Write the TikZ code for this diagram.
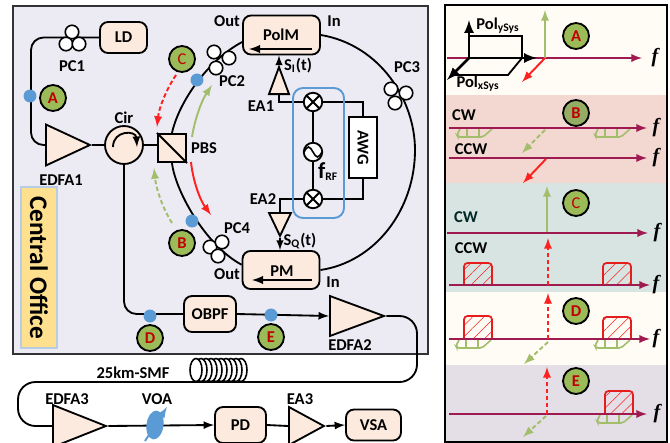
\documentclass[tikz,border=0pt]{standalone}
\usepackage{fontspec}
\setmainfont{Carlito}
\newfontfamily\freqfont{Liberation Serif}
\usetikzlibrary{shapes.geometric,patterns.meta,backgrounds}

\definecolor{panelgray}{HTML}{ECEAF2}
\definecolor{boxpeach}{HTML}{FBEADD}
\definecolor{dotblue}{HTML}{5B9BD5}
\definecolor{tagred}{HTML}{C00000}
\definecolor{taggreen}{HTML}{9BBB59}
\definecolor{axiscrim}{HTML}{9E1A50}
\definecolor{sigred}{HTML}{FF2020}
\definecolor{siggreen}{HTML}{A3BE6B}
\definecolor{officeyellow}{HTML}{FFE08F}
\definecolor{officeblue}{HTML}{B8CCE4}
\definecolor{bandA}{HTML}{FFFCF5}
\definecolor{bandB}{HTML}{F2D8D0}
\definecolor{bandC}{HTML}{D7E4E2}
\definecolor{bandE}{HTML}{E4DEE6}

\tikzset{
  lab/.style={font=\fontsize{9.4}{10}\selectfont\bfseries, inner sep=0pt},
  boxn/.style={lab, draw, line width=1.05pt, fill=boxpeach, rounded corners=0.16cm},
  ampl/.style={draw, line width=1.05pt, fill=boxpeach, isosceles triangle, isosceles triangle stretches, inner sep=0pt, anchor=lower side},
  pcring/.style={circle, draw, line width=0.9pt, fill=white, minimum size=0.27cm, inner sep=0pt},
  dotn/.style={circle, fill=dotblue, minimum size=0.26cm, inner sep=0pt},
  tag/.style={circle, draw, line width=1.05pt, fill=taggreen, text=tagred, minimum size=0.52cm, inner sep=0pt, font=\fontsize{9.4}{10}\selectfont\bfseries},
  mixer/.style={circle, draw, line width=1.05pt, fill=white, minimum size=0.37cm, inner sep=0pt,
    path picture={\draw[line width=1.05pt] (path picture bounding box.north west) -- (path picture bounding box.south east)
      (path picture bounding box.north east) -- (path picture bounding box.south west);}},
  wire/.style={line width=1.05pt},
  fibre/.style={wire, rounded corners=0.25cm},
  faxisl/.style={line width=1.1pt, axiscrim, -latex},
  redsolid/.style={line width=1.1pt, sigred, -latex},
  reddash/.style={line width=1.1pt, sigred, dash pattern=on 2.5pt off 1.5pt, -latex},
  greensolid/.style={line width=1.1pt, siggreen, -latex},
  greendash/.style={line width=1.1pt, siggreen, dash pattern=on 2.5pt off 1.5pt, -latex}
}

\newcommand{\faxis}[5]{
  \draw[faxisl] (#1,#3) -- (#2,#3);
  \node[inner sep=0pt, font=\fontsize{11.5}{12}\selectfont\freqfont\bfseries\itshape] (#4) at (#5,#3) {f};
}
\newcommand{\hatchbox}[3]{
  \draw[line width=1pt, sigred!90!black, rounded corners=0.07cm, pattern={Lines[angle=45,distance=4.5pt,line width=0.3pt]}, pattern color=sigred]
    (#1,#3) -- (#1,#2) -- (#1+28,#2) -- (#1+28,#3);
}
\newcommand{\sideband}[2]{
  \draw[line width=0.9pt, siggreen, rounded corners=0.04cm] (#1+3,#2) -- (#1,#2+6) -- (#1+1,#2+8) -- (#1+26,#2+8) -- (#1+35,#2);
  \draw[line width=0.6pt, siggreen] (#1+10,#2) -- (#1+10,#2+8) (#1+22,#2) -- (#1+22,#2+8);
}

\begin{document}
\begin{tikzpicture}[x=0.02cm, y=-0.02cm]
    \clip (0,0) rectangle (670,443);
    \useasboundingbox (0,0) rectangle (670,443);
    \begin{scope}[on background layer]
      \fill[white] (0,0) rectangle (670,443);
      \draw[line width=0.7pt, fill=panelgray, draw=black!80] (13,6) rectangle (428,354);
    \end{scope}

    % central office part
    \node[lab, rotate=-90, draw=officeblue, line width=1.2pt, fill=officeyellow, minimum width=3.22cm, minimum height=0.72cm, font=\fontsize{14.4}{15}\selectfont\bfseries] (office) at (39,267.5) {Central Office};
    \node[boxn, minimum width=0.94cm, minimum height=0.62cm] (LD) at (123.5,37.5) {LD};
    \node[ampl, minimum width=0.82cm, minimum height=0.88cm] (EDFAa) at (45,145) {};
    \node[circle, draw, wire, fill=boxpeach, minimum size=0.76cm, inner sep=0pt] (Cir) at (124,145) {};
    \node[draw, line width=1.2pt, fill=boxpeach, minimum size=0.56cm, inner sep=0pt] (PBS) at (172,148) {};
    \node[boxn, minimum width=1.54cm, minimum height=0.78cm] (PolM) at (281.5,35) {};
    \node[boxn, minimum width=1.54cm, minimum height=0.76cm] (PM) at (281,270) {};
    \node[boxn, minimum width=1.04cm, minimum height=0.72cm] (OBPF) at (210,314) {OBPF};
    \node[ampl, minimum width=0.8cm, minimum height=1.08cm] (EDFAb) at (329,316) {};
    \node[ampl, minimum width=0.84cm, minimum height=1.06cm] (EDFAc) at (52,426) {};
    \node[boxn, minimum width=1.02cm, minimum height=0.72cm] (PD) at (240.5,425) {PD};
    \node[ampl, minimum width=0.76cm, minimum height=0.7cm] (EAc) at (288,426) {};
    \node[boxn, minimum width=1.1cm, minimum height=0.62cm] (VSA) at (373.5,425) {VSA};
    \node[ellipse, fill=dotblue, minimum width=0.34cm, minimum height=0.58cm, inner sep=0pt, rotate=-8] (VOA) at (155,425) {};

    % driver part
    \draw[line width=1.1pt, dotblue, rounded corners=0.2cm] (293,88) rectangle (344,218);
    \node[mixer] (mixI) at (313,102) {};
    \node[mixer] (mixQ) at (313,199) {};
    \node[circle, draw, wire, fill=white, minimum size=0.37cm, inner sep=0pt] (osc) at (313,152) {};
    \draw[line width=0.9pt] (304,152) sin (308.5,147) cos (313,152) sin (317.5,157) cos (322,152);
    \node[lab, draw, wire, fill=white, rotate=-90, minimum width=1.22cm, minimum height=0.56cm] (AWG) at (363,147.5) {AWG};
    \node[ampl, shape border rotate=90, minimum width=0.4cm, minimum height=0.54cm] (EAi) at (279,95) {};
    \node[ampl, shape border rotate=270, minimum width=0.44cm, minimum height=0.46cm] (EAq) at (280,212) {};

    % polarization controllers
    \node[pcring] (PCaa) at (72,32) {};
    \node[pcring] (PCab) at (66,44) {};
    \node[pcring] (PCac) at (79,44) {};
    \node[pcring] (PCba) at (214,52) {};
    \node[pcring] (PCbb) at (216,68) {};
    \node[pcring] (PCbc) at (229,58) {};
    \node[pcring] (PCca) at (391,89) {};
    \node[pcring] (PCcb) at (406,93) {};
    \node[pcring] (PCcc) at (395,103) {};
    \node[pcring] (PCda) at (210,247) {};
    \node[pcring] (PCdb) at (222,242) {};
    \node[pcring] (PCdc) at (218,256) {};

    % fibres
    \coordinate (feedL) at (31,145);
    \coordinate (fibreR) at (417,382);
    \coordinate (fibreL) at (18,426);
    \begin{scope}[on background layer]
      \draw[fibre] (LD.west) -| (feedL) -- (EDFAa.lower side);
      \draw[wire] (EDFAa.apex) -- (Cir.west);
      \draw[wire] (Cir.east) -- (PBS.west |- Cir.east);
      \draw[fibre] (Cir.south) |- (OBPF.west);
      \draw[wire, -latex] (OBPF.east) -- (EDFAb.lower side);
      \draw[fibre, rounded corners=0.35cm] (EDFAb.apex) -| (fibreR) -| (fibreL) -- (EDFAc.lower side);
      \draw[wire, -latex] (EDFAc.apex) -- (PD.west);
      \draw[wire] (PD.east) -- (EAc.lower side);
      \draw[wire, -latex] (EAc.apex) -- (VSA.west);
      \draw[wire] (PBS.north) .. controls (178,105) and (205,62) .. ([yshift=-4pt]PolM.west);
      \draw[wire] (PBS.south) .. controls (175,190) and (205,245) .. ([yshift=3pt]PM.west);
      \draw[wire] (PolM.east) .. controls (380,45) and (415,100) .. (415,150) .. controls (415,210) and (375,262) .. (PM.east);
      \draw[wire] (mixI.west) -| (EAi.lower side);
      \draw[wire] (mixQ.west) -| (EAq.lower side);
      \draw[wire] (mixI) -- (osc) -- (mixQ);
      \draw[wire] (mixI.east) -| (AWG.west);
      \draw[wire] (mixQ.east) -| (AWG.east);
      \draw[line width=0.9pt, -latex] (EAi.apex) -- (PolM.south -| EAi.apex);
      \draw[line width=0.9pt, -latex] (EAq.apex) -- (PM.north -| EAq.apex);
    \end{scope}
    \foreach \x in {241,236,...,195}
      \draw[line width=0.9pt, fill=white] (\x,370) ellipse [x radius=6, y radius=11.5];
    \draw[wire] (PBS.north west) -- (PBS.south east);
    \draw[wire, -latex] (113,147) .. controls (113,130) and (136,130) .. (137,147);
    \draw[line width=1.2pt, -latex] (312,49) -- (249,49);
    \draw[line width=1.2pt, -latex] (312,280) -- (252,280);
    \draw[line width=1.1pt, dotblue, -latex] (145,441) -- (167,407);

    % signal arrows
    \draw[reddash] (176,75) .. controls (166,90) and (159,108) .. (157,127);
    \draw[greendash] (172,223) .. controls (162,207) and (156,188) .. (154,168);
    \draw[greensolid] (192,137) .. controls (195,118) and (202,100) .. (212,85);
    \draw[redsolid] (191,162) .. controls (193,181) and (200,200) .. (211,215);

    % monitor points
    \node[dotn] (dotA) at (30,96) {};
    \node[dotn] (dotC) at (197,80) {};
    \node[dotn] (dotB) at (192,221) {};
    \node[dotn] (dotD) at (150,316) {};
    \node[dotn] (dotE) at (271,315) {};
    \node[tag] (tagA) at (53,98) {A};
    \node[tag, font=\fontsize{9.4}{10}\selectfont] (tagC) at (182,59) {C};
    \node[tag] (tagB) at (182,243) {B};
    \node[tag] (tagD) at (150,338) {D};
    \node[tag] (tagE) at (271,337) {E};

    % labels
    \node[lab] (lPCa) at (72,66) {PC1};
    \node[lab] (lCir) at (124,118) {Cir};
    \node[lab] (lPBS) at (204,148) {PBS};
    \node[lab] (lEDFAa) at (61,180) {EDFA1};
    \node[lab] (lOuta) at (227,21) {Out};
    \node[lab] (lIna) at (334,21) {In};
    \node[lab] (lPolM) at (281,35) {PolM};
    \node[lab] (lPCb) at (232,81) {PC2};
    \node[lab] (lPCc) at (407,67) {PC3};
    \node[lab] (lPCd) at (237,228) {PC4};
    \node[lab] (lOutb) at (227,274) {Out};
    \node[lab] (lInb) at (333,282) {In};
    \node[lab] (lPM) at (282,271) {PM};
    \node[lab] (lEAa) at (261,106) {EA1};
    \node[lab] (lEAb) at (263,199) {EA2};
    \node[lab] (lSi) at (298,66) {S\textsubscript{I}(t)};
    \node[lab] (lSq) at (300,241) {S\textsubscript{Q}(t)};
    \node[lab] (lfRF) at (328,172) {{\fontsize{13}{14}\selectfont f}\textsubscript{RF}};
    \node[lab] (lEDFAb) at (350,345) {EDFA2};
    \node[lab] (lEDFAc) at (67,399) {EDFA3};
    \node[lab] (lSMF) at (133,373) {25km-SMF};
    \node[lab] (lVOA) at (157,399) {VOA};
    \node[lab] (lEAc) at (300,399) {EA3};

    % spectrum panel
    \fill[bandA] (445,6) rectangle (667,95);
    \fill[bandB] (445,95) rectangle (667,183);
    \fill[bandC] (445,183) rectangle (667,292);
    \fill[bandA] (445,292) rectangle (667,365);
    \fill[bandE] (445,365) rectangle (667,441);
    \draw[line width=1.3pt] (445,5) rectangle (667,442);

    % A
    \draw[wire] (469,36) -- (522,36) -- (522,58) -- (508,75) -- (455,75);
    \faxis{447}{642}{58}{fA}{655}
    \draw[line width=1.5pt, -latex] (469,58) -- (469,20);
    \draw[line width=1.5pt, -latex] (469,58) -- (537,58);
    \draw[line width=1.5pt, -latex] (469,58) -- (447,80);
    \draw[greensolid] (545,58) -- (545,10);
    \draw[redsolid] (545,58) -- (522,82);
    \node[lab] (lPoly) at (498,26) {Pol\textsubscript{ySys}};
    \node[lab] (lPolx) at (478,84) {Pol\textsubscript{xSys}};
    \node[tag] (tagPA) at (576,36) {A};

    % B
    \sideband{457}{129}
    \sideband{595}{129}
    \faxis{449}{647}{128}{fBa}{656}
    \faxis{449}{647}{158}{fBb}{656}
    \draw[greendash] (545,130) -- (522,153);
    \draw[redsolid] (546,159) -- (523,183);
    \node[lab] (lCWb) at (464,115) {CW};
    \node[lab] (lCCWb) at (471,149) {CCW};
    \node[tag, fill=taggreen!75!gray] (tagPB) at (576,113) {B};

    % C
    \hatchbox{464}{263}{285}
    \hatchbox{603}{263}{285}
    \faxis{447}{648}{233}{fCa}{657}
    \faxis{449}{650}{285}{fCb}{656}
    \draw[greensolid] (547,232) -- (547,186);
    \draw[reddash] (548,285) -- (548,238);
    \node[lab, text=black!70!teal] (lCWc) at (466,217) {CW};
    \node[lab] (lCCWc) at (471,248) {CCW};
    \node[tag, font=\fontsize{9.4}{10}\selectfont] (tagPC) at (576,203) {C};

    % D
    \sideband{456}{340}
    \sideband{595}{340}
    \hatchbox{464}{316}{339}
    \hatchbox{603}{317}{339}
    \faxis{449}{650}{339}{fD}{656}
    \draw[reddash] (548,339) -- (548,293);
    \draw[greendash] (548,342) -- (524,364);
    \node[tag] (tagPD) at (576,311) {D};

    % E
    \sideband{597}{415}
    \hatchbox{605}{391}{414}
    \faxis{449}{647}{414}{fE}{657}
    \draw[reddash] (547,414) -- (547,367);
    \draw[greendash] (546,416) -- (523,437);
    \node[tag] (tagPE) at (576,381) {E};
\end{tikzpicture}
\end{document}
